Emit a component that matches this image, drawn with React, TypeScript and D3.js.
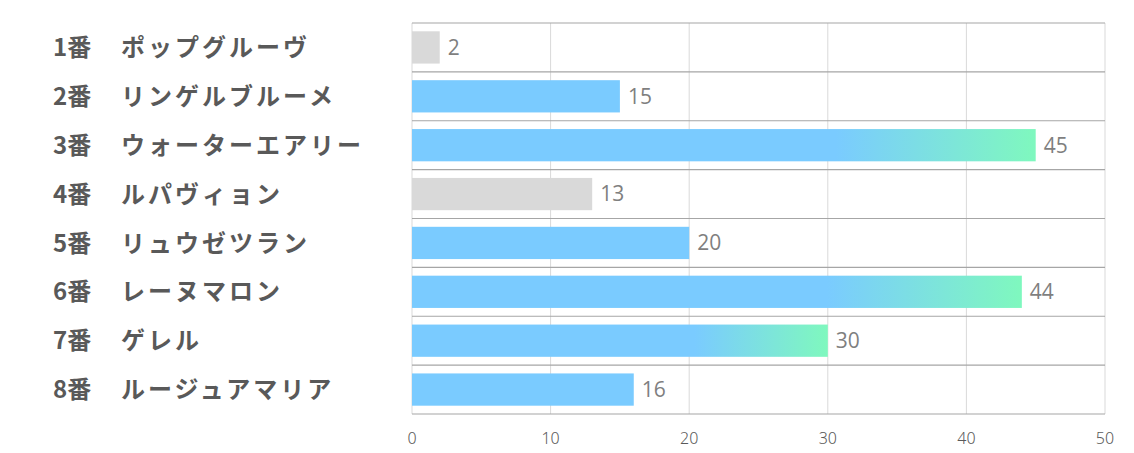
import React from "react";
import * as d3 from "d3";

const numbers = ["1番", "2番", "3番", "4番", "5番", "6番", "7番", "8番"];
const names = ["ポップグルーヴ", "リンゲルブルーメ", "ウォーターエアリー", "ルパヴィョン", "リュウゼツラン", "レーヌマロン", "ゲレル", "ルージュアマリア"];
const values = [2, 15, 45, 13, 20, 44, 30, 16];
const kinds = ["gray", "blue", "grad", "gray", "blue", "grad", "grad", "blue"];
const xTicks = [0, 10, 20, 30, 40, 50];

const W = 1134, H = 453;
const left = 412, right = 1105, top = 23, bottom = 414;

export default function App() {
  const x = d3.scaleLinear().domain([0, 50]).range([left, right]);
  const y = d3.scaleBand<number>().domain(d3.range(values.length)).range([top, bottom]).paddingInner(0.34).paddingOuter(0.17);
  const step = y.step();
  const jp = "'Noto Sans CJK JP', 'Noto Sans', sans-serif";
  return (
    <svg width={W} height={H} style={{ position: "absolute", left: 0, top: 0, background: "#fff" }}>
      <defs>
        <linearGradient id="g" x1="0" x2="1" y1="0" y2="0">
          <stop offset="0" stopColor="#7ACBFF" />
          <stop offset="0.68" stopColor="#7ACBFF" />
          <stop offset="1" stopColor="#7FF8BE" />
        </linearGradient>
      </defs>
      {xTicks.map((t) => (
        <line key={"v" + t} x1={x(t)} x2={x(t)} y1={top} y2={bottom} stroke="#d9d9d9" strokeWidth={1} />
      ))}
      {d3.range(values.length + 1).map((i) => (
        <line key={"h" + i} x1={left} x2={right} y1={top + i * step} y2={top + i * step} stroke="#a6a6a6" strokeWidth={1.2} />
      ))}
      {values.map((v, i) => (
        <rect key={"b" + i} x={x(0)} y={y(i)} width={x(v) - x(0)} height={y.bandwidth()}
          fill={kinds[i] === "gray" ? "#D9D9D9" : kinds[i] === "grad" ? "url(#g)" : "#7ACBFF"} />
      ))}
      {values.map((v, i) => (
        <text key={"l" + i} x={x(v) + 8} y={y(i)! + y.bandwidth() / 2} dy="0.35em" fontSize={21}
          fill="#7f7f7f" fontFamily="'Open Sans', 'Noto Sans', sans-serif">{v}</text>
      ))}
      {numbers.map((n, i) => (
        <g key={"c" + i} fontFamily={jp} fontWeight={700} fontSize={24} fill="#595959">
          <text x={53} y={y(i)! + y.bandwidth() / 2} dy="0.36em">{n}</text>
          <text x={121} y={y(i)! + y.bandwidth() / 2} dy="0.36em" letterSpacing={3}>{names[i]}</text>
        </g>
      ))}
      {xTicks.map((t) => (
        <text key={"t" + t} x={x(t)} y={438} dy="0.35em" textAnchor="middle" fontSize={16}
          fill="#595959" fontFamily="'Noto Sans', sans-serif" fontWeight={300}>{t}</text>
      ))}
    </svg>
  );
}
